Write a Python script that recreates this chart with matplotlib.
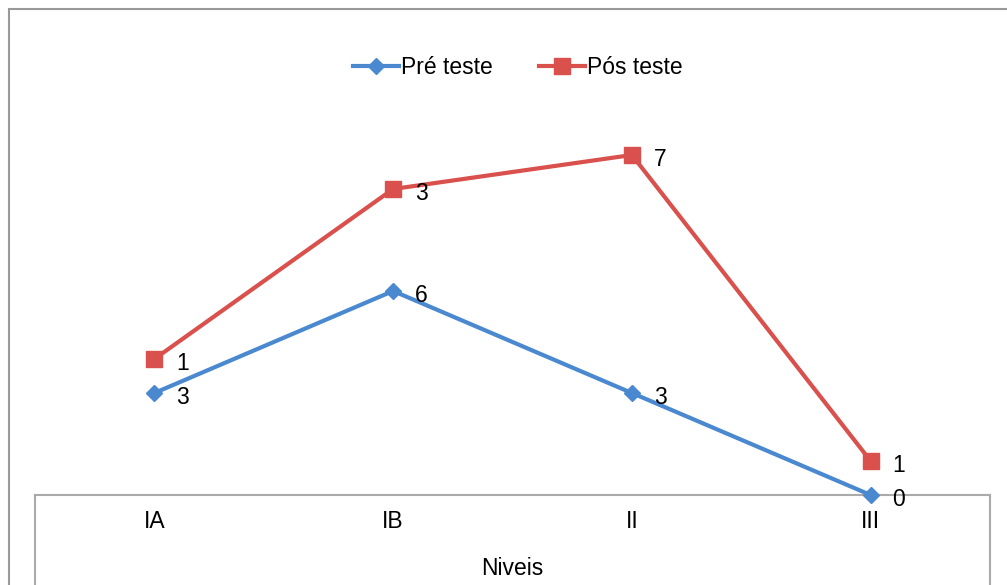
import matplotlib.pyplot as plt
from matplotlib.lines import Line2D
from matplotlib.patches import Rectangle

plt.rcParams['font.family'] = ['Liberation Sans', 'DejaVu Sans']

niveis = ['IA', 'IB', 'II', 'III']
pre_teste = [3, 6, 3, 0]
pos_teste = [1, 3, 7, 1]

blue = '#4a89d0'
red = '#d9504c'

# stacked line chart: the second series sits on top of the first
pos_stacked = [a + b for a, b in zip(pre_teste, pos_teste)]
x = list(range(len(niveis)))

fig = plt.figure(figsize=(10.07, 5.85), dpi=100)
W, H = 1007, 585
ax = fig.add_axes([35 / W, 1 - 495 / H, 955 / W, 408 / H])

ax.plot(x, pre_teste, color=blue, lw=3, marker='D', ms=8, clip_on=False,
        label='Pré teste', zorder=3)
ax.plot(x, pos_stacked, color=red, lw=3, marker='s', ms=11, clip_on=False,
        label='Pós teste', zorder=3)

fs = 16.5
for xi, yv, lab in zip(x, pre_teste, pre_teste):
    ax.annotate(str(lab), (xi, yv), xytext=(22, -5), textcoords='offset pixels',
                ha='left', va='center', fontsize=fs, annotation_clip=False)
for xi, yv, lab in zip(x, pos_stacked, pos_teste):
    ax.annotate(str(lab), (xi, yv), xytext=(22, -5), textcoords='offset pixels',
                ha='left', va='center', fontsize=fs, annotation_clip=False)

ax.set_xlim(-0.5, 3.5)
ax.set_ylim(0, 12)
ax.set_xticks(x)
ax.set_xticklabels(niveis, fontsize=fs)
ax.set_yticks([])
ax.tick_params(axis='x', length=0, pad=11)
ax.set_xlabel('Niveis', fontsize=fs, labelpad=17)
for s in ['left', 'right', 'top']:
    ax.spines[s].set_visible(False)
ax.spines['bottom'].set_color('#aaaaaa')
ax.spines['bottom'].set_linewidth(1.5)

# box around the category labels
for px in (35, 990):
    fig.add_artist(Line2D([px / W, px / W], [0, 1 - 495 / H],
                          color='#aaaaaa', lw=1.5, transform=fig.transFigure))

# outer chart frame
fig.add_artist(Rectangle((9 / W, -0.1), 1.2, 1.1 - 9 / H, fill=False,
                         edgecolor='#999999', lw=1.5, transform=fig.transFigure))

fig.legend(loc='center', bbox_to_anchor=(518 / W, 1 - 68 / H), ncol=2,
           frameon=False, fontsize=fs, handlelength=2.0, handletextpad=0.1,
           columnspacing=2.0)

fig.savefig('out.png', dpi=100)
